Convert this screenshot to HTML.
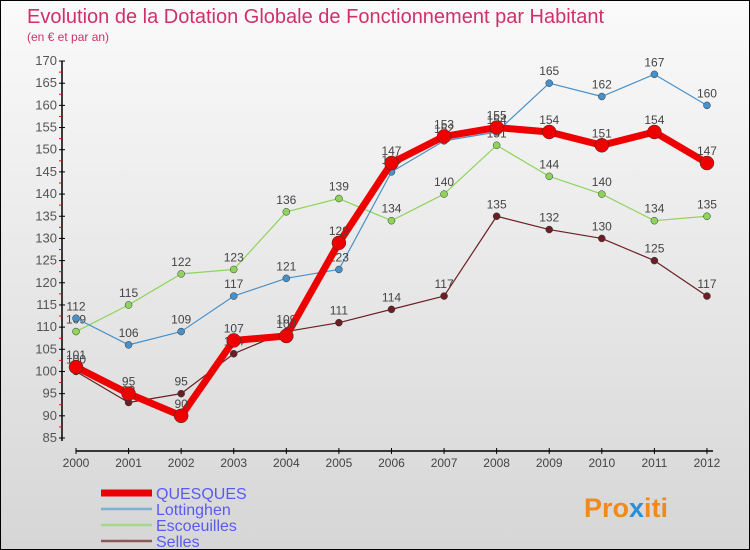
<!DOCTYPE html>
<html><head><meta charset="utf-8"><style>
body{margin:0}
#c{width:748px;height:548px;border:1px solid #000;background:linear-gradient(#fafafa,#d6d6d6);position:relative;font-family:"Liberation Sans",sans-serif;overflow:hidden}
</style></head><body>
<div id="c">
<svg id="s" width="748" height="548" style="position:absolute;left:0;top:0">
<text x="26" y="22" font-size="20" fill="#d0306a">Evolution de la Dotation Globale de Fonctionnement par Habitant</text>
<text x="26" y="40" font-size="12" fill="#d0306a">(en € et par an)</text>
<text x="583" y="516" font-size="27" font-weight="bold" fill="#f08a1e">Pro<tspan fill="#2a8fd8">x</tspan>iti</text>
</svg>
</div>
<script>
const years=[2000,2001,2002,2003,2004,2005,2006,2007,2008,2009,2010,2011,2012];
const yTicks=[85,90,95,100,105,110,115,120,125,130,135,140,145,150,155,160,165,170];
const quesques=[101,95,90,107,108,129,147,153,155,154,151,154,147];
const lottinghen=[112,106,109,117,121,123,145,152,154,165,162,167,160];
const escoeuilles=[109,115,122,123,136,139,134,140,151,144,140,134,135];
const selles=[100,93,95,104,109,111,114,117,135,132,130,125,117];
const ns="http://www.w3.org/2000/svg";
const s=document.getElementById('s');
const X=i=>75+i*52.58;
const Y=v=>437-(v-85)*4.435;
function el(t,a,p){const e=document.createElementNS(ns,t);for(const k in a)e.setAttribute(k,a[k]);(p||s).appendChild(e);return e;}
const ya=el('line',{x1:61,y1:60,x2:61,y2:440,stroke:'#000','stroke-width':1.5});


yTicks.forEach(v=>{
  el('line',{x1:58,x2:64,y1:Y(v),y2:Y(v),stroke:'#000'});
  if(v<170) el('line',{x1:58,x2:61,y1:Y(v+2.5),y2:Y(v+2.5),stroke:'#f00'});
  const t=el('text',{x:56,y:Y(v)+4,'text-anchor':'end','font-size':13,fill:'#555'});
  t.textContent=v;
  
  
});
const xa=el('line',{x1:75,y1:450,x2:712,y2:450,stroke:'#000','stroke-width':1.5});


years.forEach((y,i)=>{
  el('line',{x1:X(i),x2:X(i),y1:447,y2:453,stroke:'#000'});
  const t=el('text',{x:X(i),y:466,'text-anchor':'middle','font-size':12,fill:'#444'});
  t.textContent=y;
  
  
});
const series=[
 {n:'selles',d:selles,c:'#6b1f25',w:1.2,r:3.5},
 {n:'escoeuilles',d:escoeuilles,c:'#8ed45a',w:1.2,r:3.5},
 {n:'lottinghen',d:lottinghen,c:'#4a90c8',w:1.2,r:3.5},
 {n:'quesques',d:quesques,c:'#ee0000',w:7,r:7}];
series.forEach(sr=>{
  const p=el('polyline',{points:sr.d.map((v,i)=>X(i)+','+Y(v)).join(' '),fill:'none',stroke:sr.c,'stroke-width':sr.w,'stroke-linejoin':'round'});
  
  
  sr.d.forEach((v,i)=>{
    const c=el('circle',{cx:X(i),cy:Y(v),r:sr.r,fill:sr.c,stroke:'#333','stroke-width':0.5});
    
    
    const t=el('text',{x:X(i),y:Y(v)-8,'text-anchor':'middle','font-size':12,fill:'#444'});
    t.textContent=v;
    
    
  });
});
const leg=[['QUESQUES','#ee0000',7],['Lottinghen','#7fb0d0',2.5],['Escoeuilles','#a6d88a',2.5],['Selles','#8a5a5a',2.5]];
leg.forEach((l,i)=>{
  const yy=492+i*16;
  const ln=el('line',{x1:100,x2:151,y1:yy,y2:yy,stroke:l[1],'stroke-width':l[2]});
  
  
  const t=el('text',{x:155,y:yy+6,'font-size':16,fill:'#5a5af0'});
  t.textContent=l[0];
  
  
});
</script>
</body></html>
